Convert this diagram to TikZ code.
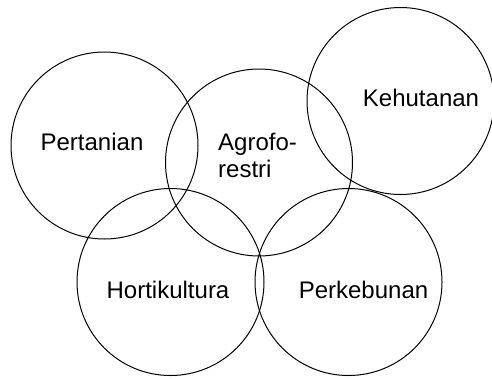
\documentclass[tikz,border=0pt]{standalone}
\usepackage{fontspec}
\setmainfont{Liberation Sans}
\begin{document}
\begin{tikzpicture}[x=1pt,y=-1pt,
  ring/.style={circle,draw=black,line width=1pt,minimum size=187pt,inner sep=0pt},
  lbl/.style={font=\fontsize{24}{27}\selectfont,inner sep=0pt}]
\useasboundingbox (0,0) rectangle (492,378);
\node[ring] (pert) at (104.5,145.5) {};
\node[ring] (agro) at (259,162.5) {};
\node[ring] (kehu) at (400.5,101) {};
\node[ring] (hort) at (170.5,282) {};
\node[ring] (perk) at (348.5,282) {};
\node[lbl] (tpert) at (92,142) {Pertanian};
\node[lbl,align=left,anchor=west] (tagro) at (218,155) {Agrofo-\\restri};
\node[lbl] (tkehu) at (421,98) {Kehutanan};
\node[lbl] (thort) at (168,290) {Hortikultura};
\node[lbl] (tperk) at (363.5,290) {Perkebunan};
\end{tikzpicture}
\end{document}
